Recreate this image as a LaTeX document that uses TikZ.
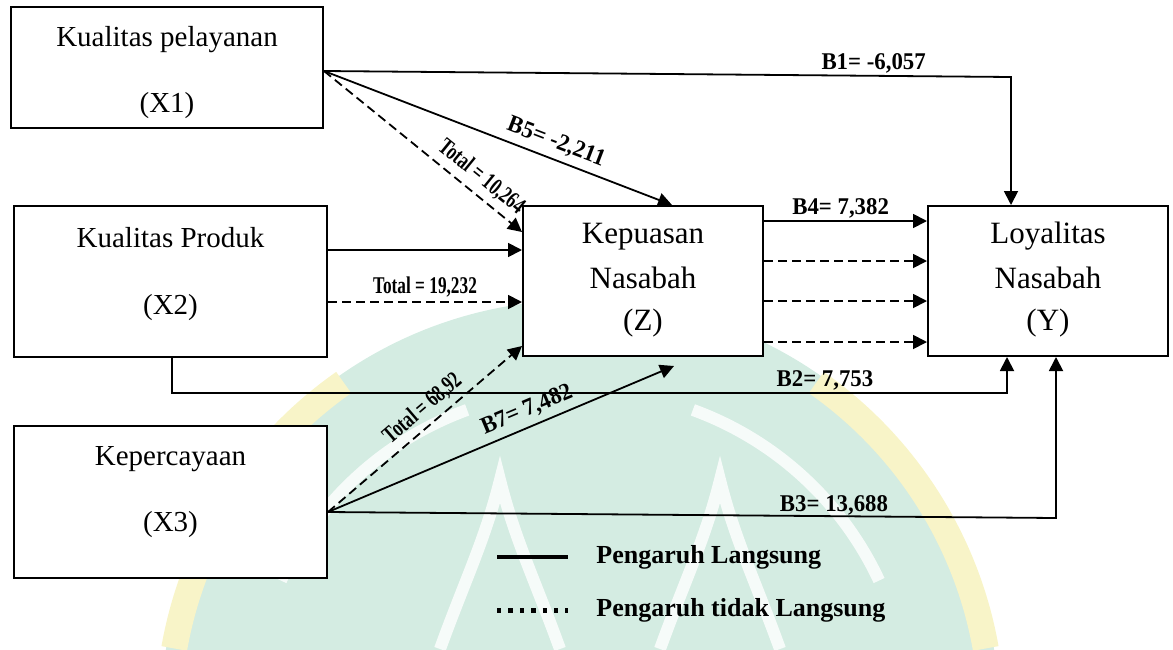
\documentclass[tikz,border=0pt]{standalone}
\usepackage{fontspec}
\setmainfont{Liberation Serif}
\usetikzlibrary{arrows.meta,calc}
\definecolor{wmint}{RGB}{212,236,226}
\definecolor{wyel}{RGB}{248,244,200}
\newcommand\Blbl[1]{\scalebox{0.95}[1]{#1}}
\newcommand\Tlbl[1]{\scalebox{0.72}[1]{#1}}
\begin{document}
\begin{tikzpicture}[x=0.5pt,y=-0.5pt,
  box/.style={draw, line width=1pt, fill=white, inner sep=0pt},
  xtxt/.style={font=\fontsize{14.5}{17}\selectfont, inner sep=0pt, anchor=base},
  ztxt/.style={font=\fontsize{15.5}{18}\selectfont, inner sep=0pt, anchor=base},
  conn/.style={line width=0.9pt, -{Triangle[length=7pt,width=7pt]}},
  ind/.style={conn, dash pattern=on 4.5pt off 2.5pt},
  lbl/.style={font=\fontsize{12}{12}\selectfont\bfseries, inner sep=0.8pt},
  slbl/.style={lbl, sloped, above, inner sep=3pt},
  leg/.style={font=\fontsize{13}{13}\selectfont\bfseries, anchor=west, inner sep=0pt}
]
\useasboundingbox (0,0) rectangle (1173,649);
% watermark (faint logo in the background)
\begin{scope}
\clip (0,0) rectangle (1173,649);
\fill[wmint] (580,720) circle (420);
\draw[wyel, line width=13pt] (580,720) ++(190:412) arc (190:235:412);
\draw[wyel, line width=13pt] (580,720) ++(305:412) arc (305:350:412);
\draw[white, line width=6pt, opacity=0.8] (580,720) ++(205:330) arc (205:250:330);
\draw[white, line width=6pt, opacity=0.8] (580,720) ++(290:330) arc (290:335:330);
\draw[white, line width=6pt, opacity=0.8] (440,649) .. controls (465,580) and (485,540) .. (500,480) .. controls (515,540) and (535,580) .. (560,649);
\draw[white, line width=6pt, opacity=0.8] (660,649) .. controls (685,580) and (705,540) .. (720,480) .. controls (735,540) and (755,580) .. (780,649);
\end{scope}
% boxes
\node[box, minimum width=156pt, minimum height=60.5pt] (X1) at (167,67.5) {};
\node[box, minimum width=156.5pt, minimum height=75.5pt] (X2) at (170.5,281.5) {};
\node[box, minimum width=156.5pt, minimum height=76pt] (X3) at (170.5,502) {};
\node[box, minimum width=120pt, minimum height=75pt] (Z) at (643,281) {};
\node[box, minimum width=120pt, minimum height=75pt] (Y) at (1048,281) {};
% box texts
\node[xtxt] (X1a) at (167,46) {Kualitas pelayanan};
\node[xtxt] (X1b) at (167,112) {(X1)};
\node[xtxt] (X2a) at (170.5,247) {Kualitas Produk};
\node[xtxt] (X2b) at (170.5,314) {(X2)};
\node[xtxt] (X3a) at (170.5,465) {Kepercayaan};
\node[xtxt] (X3b) at (170.5,531) {(X3)};
\node[ztxt] (Za) at (643,243) {Kepuasan};
\node[ztxt] (Zb) at (643,288) {Nasabah};
\node[ztxt] (Zc) at (643,330) {(Z)};
\node[ztxt] (Ya) at (1048,243) {Loyalitas};
\node[ztxt] (Yb) at (1048,288) {Nasabah};
\node[ztxt] (Yc) at (1048,330) {(Y)};
% helper coordinates
\coordinate (x1o) at ([yshift=-1.75pt]X1.east);
\coordinate (x3o) at ([yshift=-5pt]X3.east);
\coordinate (c1) at (1011,77);
\coordinate (c2a) at (172,393);
\coordinate (c2b) at (1007,393);
\coordinate (c3) at (1056,518);
% X1 paths
\draw[conn] (x1o) -- node[lbl, above, pos=0.8]{\Blbl{B1= -6,057}} (c1) -- (c1 |- Y.north);
\draw[conn] (x1o) -- node[slbl, pos=0.65]{\Blbl{B5= -2,211}} ($(Z.north west)+(150,0)$);
\draw[ind] (x1o) -- node[slbl, pos=0.74]{\Tlbl{Total = 10,264}} ($(Z.north west)+(0,27)$);
% X2 paths
\draw[conn] ($(X2.north east)+(0,45)$) -- ($(Z.north west)+(0,45)$);
\draw[ind] ($(X2.north east)+(0,97)$) -- node[lbl, above, inner sep=2pt]{\Tlbl{Total = 19,232}} ($(Z.north west)+(0,97)$);
\draw[conn] (c2a |- X2.south) -- (c2a) -- node[lbl, above, pos=0.782]{\Blbl{B2= 7,753}} (c2b) -- (c2b |- Y.south);
% X3 paths
\draw[ind] (x3o) -- node[slbl, pos=0.545]{\Tlbl{Total = 68,92}} ($(Z.south west)+(0,-11)$);
\draw[conn] (x3o) -- node[slbl, pos=0.594]{\Blbl{B7= 7,482}} ($(Z.south west)+(152,9)$);
\draw[conn] (x3o) -- node[lbl, above, pos=0.695, inner sep=0pt]{\Blbl{B3= 13,688}} (c3) -- (c3 |- Y.south);
% Z to Y
\draw[conn] ($(Z.north east)+(0,16)$) -- node[lbl, above, pos=0.47]{\Blbl{B4= 7,382}} ($(Y.north west)+(0,16)$);
\draw[ind] ($(Z.north east)+(0,56)$) -- ($(Y.north west)+(0,56)$);
\draw[ind] ($(Z.north east)+(0,96)$) -- ($(Y.north west)+(0,96)$);
\draw[ind] ($(Z.north east)+(0,137)$) -- ($(Y.north west)+(0,137)$);
% legend
\coordinate (l1a) at (497,557);
\coordinate (l1b) at (568,557);
\coordinate (l2a) at (497,610);
\coordinate (l2b) at (568,610);
\draw[line width=2pt] (l1a) -- (l1b);
\draw[line width=2.5pt, dash pattern=on 2.2pt off 3.5pt] (l2a) -- (l2b);
\node[leg] (leg1) at (596,557) {Pengaruh Langsung};
\node[leg] (leg2) at (596,610) {Pengaruh tidak Langsung};
\end{tikzpicture}
\end{document}
